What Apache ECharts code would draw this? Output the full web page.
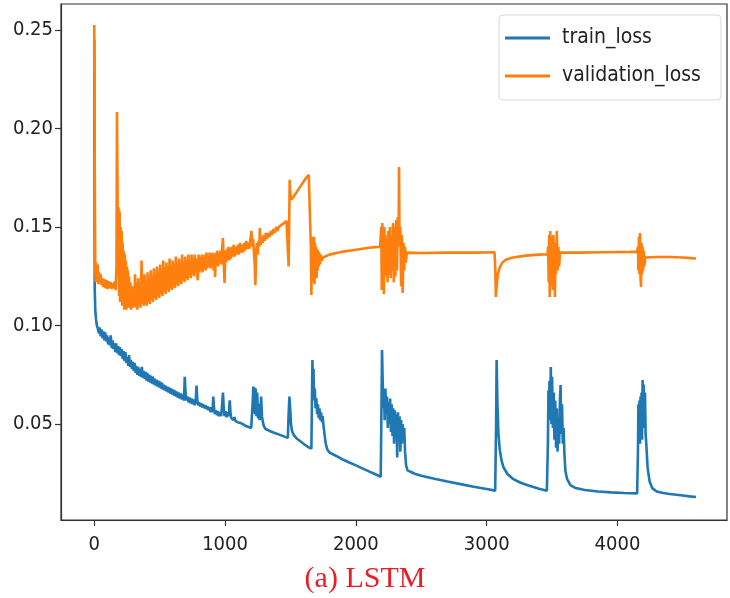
<!DOCTYPE html>
<html>
<head>
<meta charset="utf-8">
<script src="https://cdn.jsdelivr.net/npm/echarts@6/dist/echarts.min.js"></script>
<style>
html,body{margin:0;padding:0;background:#fff;}
#chart{width:730px;height:598px;}
</style>
</head>
<body>
<div id="chart"></div>
<script>
// ---- data (epoch, loss) ----
var seriesNames = ['train_loss', 'validation_loss'];
var xTicks = [0, 1000, 2000, 3000, 4000];
var yTicks = [0.05, 0.10, 0.15, 0.20, 0.25];
var captionText = '(a) LSTM';

var trainLoss = [
[0,0.245],[4,0.118],[8,0.108],[14,0.103],[20,0.100],[28,0.0985],
[36,0.0960],[42,0.0990],[50,0.0945],[56,0.0980],[64,0.0935],[70,0.0970],[78,0.0925],[84,0.0965],[92,0.0920],[98,0.0950],
[106,0.0905],[112,0.0940],[120,0.0900],[126,0.0950],[134,0.0885],[140,0.0925],[148,0.0880],[154,0.0910],[162,0.0865],[168,0.0910],
[176,0.0860],[182,0.0895],[190,0.0850],[196,0.0890],[204,0.0845],[210,0.0880],[218,0.0830],[224,0.0870],[232,0.0820],[238,0.0865],
[246,0.0810],[252,0.0840],[260,0.0795],[266,0.0850],[274,0.0790],[280,0.0825],[288,0.0780],[294,0.0815],[302,0.0770],[308,0.0810],
[316,0.0760],[322,0.0795],[330,0.0750],[336,0.0790],[344,0.0745],[350,0.0780],[358,0.0740],[364,0.0790],[372,0.0735],[378,0.0770],
[386,0.0730],[392,0.0765],[400,0.0720],[406,0.0760],[414,0.0715],[420,0.0750],[428,0.0710],[434,0.0745],[442,0.0705],[448,0.0740],
[456,0.0700],[462,0.0730],[470,0.0695],[476,0.0725],[484,0.0690],[490,0.0720],[498,0.0685],[504,0.0715],[512,0.0680],[518,0.0710],
[526,0.0675],[532,0.0700],[540,0.0670],[546,0.0695],[554,0.0665],[560,0.0690],[568,0.0660],[574,0.0685],[582,0.0655],[588,0.0680],
[596,0.0650],[602,0.0675],[610,0.0645],[616,0.0670],[624,0.0640],[630,0.0665],[638,0.0635],[646,0.0660],[654,0.0630],[662,0.0655],
[670,0.0625],[678,0.0650],[686,0.0620],[692,0.0740],[698,0.0660],[704,0.0620],[712,0.0640],[720,0.0610],[728,0.0635],[736,0.0605],
[744,0.0630],[752,0.0600],[760,0.0625],[768,0.0595],[776,0.0620],[782,0.0695],[788,0.0625],[794,0.0595],[802,0.0610],[810,0.0590],
[818,0.0605],[826,0.0585],[834,0.0600],[842,0.0580],[850,0.0595],[858,0.0575],[866,0.0590],[874,0.0570],[882,0.0585],[890,0.0560],
[898,0.0585],[904,0.0560],[910,0.0640],[916,0.0580],[922,0.0550],[930,0.0570],[938,0.0545],[946,0.0565],[954,0.0540],[962,0.0560],
[970,0.0540],[978,0.0600],[984,0.0660],[990,0.0580],[996,0.0540],[1004,0.0565],[1012,0.0535],[1020,0.0560],[1028,0.0540],[1036,0.0620],
[1042,0.0555],[1048,0.0530],[1056,0.0540],[1064,0.0520],[1072,0.0535],[1080,0.0515],[1090,0.0520],[1100,0.0508],[1120,0.0505],
[1140,0.0498],[1160,0.0490],[1180,0.0485],[1200,0.0480],
[1206,0.048],[1212,0.062],[1216,0.069],[1220,0.058],[1224,0.0685],[1228,0.055],[1234,0.068],[1240,0.054],[1246,0.066],[1252,0.053],
[1258,0.060],[1264,0.052],[1270,0.057],[1276,0.064],[1282,0.054],[1288,0.0515],[1296,0.049],[1310,0.0475],
[1340,0.0465],[1380,0.0455],[1420,0.0445],[1460,0.0435],[1480,0.043],[1486,0.055],[1492,0.064],[1498,0.058],[1504,0.050],
[1512,0.0465],[1525,0.0445],[1550,0.0425],[1580,0.041],[1610,0.0395],[1640,0.0382],[1660,0.0375],
[1664,0.060],[1668,0.0825],[1672,0.070],[1676,0.078],[1680,0.062],[1686,0.068],[1692,0.058],[1698,0.063],[1704,0.055],[1710,0.060],
[1716,0.053],[1722,0.058],[1728,0.052],[1734,0.056],[1740,0.051],[1746,0.054],[1752,0.0495],[1760,0.045],[1770,0.040],[1782,0.037],
[1800,0.0355],[1850,0.0338],[1900,0.032],[1950,0.0305],[2000,0.029],[2050,0.0275],[2100,0.026],[2150,0.0245],[2190,0.0232],
[2196,0.060],[2200,0.0876],[2205,0.072],[2210,0.058],[2215,0.066],[2220,0.052],[2226,0.068],[2232,0.055],[2238,0.064],[2244,0.048],
[2250,0.061],[2256,0.050],[2262,0.063],[2268,0.046],[2274,0.060],[2280,0.044],[2286,0.058],[2292,0.040],[2298,0.057],[2304,0.045],
[2310,0.055],[2316,0.033],[2322,0.056],[2328,0.042],[2334,0.054],[2340,0.036],[2346,0.052],[2352,0.040],[2358,0.050],[2364,0.045],
[2370,0.048],[2376,0.036],[2384,0.029],[2395,0.0265],
[2450,0.0248],[2500,0.0238],[2600,0.0222],[2700,0.0208],[2800,0.0195],[2900,0.0182],[3000,0.017],[3065,0.0162],
[3072,0.050],[3076,0.0825],[3082,0.060],[3090,0.045],[3100,0.037],[3115,0.031],[3130,0.0278],[3160,0.0245],[3200,0.0222],
[3260,0.0202],[3320,0.0188],[3400,0.0172],[3460,0.0162],
[3468,0.040],[3472,0.067],[3476,0.052],[3480,0.072],[3486,0.055],[3490,0.079],[3495,0.050],[3500,0.074],[3506,0.048],[3512,0.066],
[3518,0.042],[3524,0.062],[3530,0.038],[3536,0.058],[3542,0.036],[3548,0.052],[3554,0.040],[3560,0.062],[3565,0.0698],[3570,0.045],
[3576,0.060],[3582,0.040],[3588,0.048],[3594,0.035],[3602,0.026],[3615,0.022],[3640,0.019],[3680,0.0175],[3750,0.0165],
[3850,0.0158],[3950,0.0153],[4050,0.015],[4150,0.0148],
[4156,0.035],[4160,0.060],[4164,0.042],[4168,0.062],[4172,0.040],[4176,0.064],[4180,0.045],[4184,0.066],[4188,0.042],[4192,0.0723],
[4196,0.048],[4200,0.070],[4205,0.050],[4210,0.066],[4215,0.045],[4220,0.040],[4230,0.028],[4245,0.021],[4265,0.0175],
[4300,0.0158],[4350,0.015],[4400,0.0145],[4450,0.0141],[4500,0.0137],[4550,0.0133],[4600,0.013]
];

var validationLoss = [
[0,0.2525],[4,0.180],[8,0.130],[12,0.122],[16,0.132],[20,0.126],[26,0.131],[32,0.121],[38,0.127],[44,0.1215],[50,0.126],
[56,0.1205],[62,0.124],[70,0.1195],[78,0.1235],[86,0.119],[94,0.123],[102,0.1185],[110,0.1225],[118,0.119],[126,0.122],
[134,0.1185],[142,0.1215],[150,0.119],[158,0.1225],[164,0.118],[170,0.130],[174,0.2084],[178,0.170],[182,0.125],[186,0.160],
[190,0.115],[194,0.158],[198,0.112],[202,0.150],[206,0.118],[210,0.148],[214,0.110],[218,0.142],[222,0.112],[226,0.138],
[230,0.108],[234,0.136],[238,0.112],[242,0.133],[246,0.108],[250,0.130],[254,0.111],[258,0.128],[262,0.109],[266,0.125],
[270,0.110],[276,0.122],[282,0.108],[288,0.120],[294,0.109],[300,0.118],
[306,0.110],[312,0.126],[318,0.109],[324,0.122],[330,0.108],[336,0.124],[342,0.110],[348,0.120],[354,0.109],[362,0.133],
[366,0.111],[372,0.124],[378,0.110],[384,0.126],[390,0.111],[396,0.122],[402,0.110],[408,0.127],[414,0.112],[420,0.124],
[426,0.111],[432,0.128],[438,0.113],[444,0.125],[450,0.112],[456,0.129],[462,0.114],[468,0.126],[474,0.113],[480,0.130],
[486,0.115],[492,0.127],[498,0.114],[504,0.131],[510,0.116],[516,0.128],[522,0.115],[528,0.133],[534,0.117],[540,0.129],
[546,0.116],[552,0.132],[558,0.118],[564,0.130],[570,0.117],[576,0.134],[582,0.119],[588,0.130],[594,0.118],[600,0.133],
[606,0.120],[612,0.131],[618,0.119],[624,0.135],[630,0.121],[636,0.131],[642,0.120],[648,0.134],[654,0.122],[660,0.132],
[666,0.121],[672,0.136],[678,0.123],[684,0.132],[690,0.122],[696,0.135],[702,0.124],[708,0.133],[714,0.123],[720,0.136],
[726,0.125],[732,0.133],[738,0.124],[744,0.136],[750,0.126],[756,0.134],[762,0.125],[768,0.136],[774,0.127],[780,0.134],
[786,0.126],[792,0.123],[798,0.136],[804,0.127],[810,0.135],[816,0.128],[822,0.136],[828,0.127],[834,0.135],[840,0.129],
[846,0.136],[852,0.128],[858,0.137],[864,0.129],[870,0.135],[876,0.130],[882,0.137],[888,0.129],[894,0.136],[900,0.130],
[906,0.137],[912,0.128],[918,0.136],[924,0.1246],[930,0.137],[936,0.131],[942,0.138],[948,0.130],[954,0.137],[960,0.132],
[966,0.138],[972,0.131],[978,0.139],[984,0.1444],[990,0.132],[996,0.1216],[1002,0.138],[1008,0.132],[1014,0.139],[1020,0.133],
[1026,0.140],[1032,0.133],[1038,0.139],[1044,0.134],[1050,0.140],[1058,0.135],[1066,0.141],[1074,0.135],[1082,0.140],
[1090,0.136],[1098,0.141],[1106,0.136],[1114,0.142],[1122,0.137],[1130,0.141],[1138,0.137],[1146,0.142],[1154,0.138],
[1162,0.143],[1170,0.139],[1178,0.142],[1186,0.139],[1194,0.144],[1202,0.148],[1208,0.140],[1214,0.144],[1220,0.138],
[1226,0.132],[1232,0.1205],[1238,0.138],[1244,0.142],[1250,0.136],[1256,0.143],[1262,0.140],[1266,0.1495],[1272,0.141],
[1280,0.145],[1288,0.142],[1296,0.146],[1304,0.143],[1312,0.147],[1320,0.144],[1330,0.147],[1340,0.145],[1350,0.148],
[1360,0.146],[1370,0.149],[1380,0.147],[1390,0.150],[1400,0.148],[1410,0.150],[1420,0.149],[1430,0.151],[1440,0.150],
[1450,0.152],[1460,0.151],[1470,0.153],[1480,0.152],[1486,0.130],[1490,0.150],[1494,0.174],[1498,0.168],[1504,0.164],
[1520,0.165],[1540,0.167],[1560,0.169],[1580,0.171],[1600,0.173],[1620,0.175],[1640,0.1765],[1648,0.177],
[1652,0.176],[1656,0.140],[1660,0.1155],[1664,0.145],[1668,0.122],[1672,0.143],[1676,0.125],[1680,0.145],[1684,0.121],
[1688,0.142],[1692,0.126],[1696,0.140],[1700,0.124],[1704,0.139],[1708,0.128],[1712,0.138],[1716,0.130],[1720,0.137],
[1726,0.131],[1732,0.136],[1740,0.133],[1750,0.1345],[1770,0.1352],[1800,0.136],[1850,0.1368],[1900,0.1375],[1950,0.138],
[2000,0.1385],[2050,0.139],[2100,0.1395],[2150,0.1398],[2185,0.140],
[2190,0.140],[2194,0.150],[2198,0.118],[2202,0.152],[2206,0.122],[2210,0.148],[2214,0.116],[2218,0.150],[2222,0.125],
[2226,0.146],[2230,0.128],[2236,0.144],[2242,0.122],[2248,0.148],[2254,0.126],[2260,0.150],[2266,0.124],[2272,0.145],
[2278,0.128],[2284,0.152],[2290,0.122],[2296,0.150],[2302,0.125],[2308,0.1535],[2314,0.128],[2320,0.155],[2326,0.140],
[2330,0.1805],[2334,0.140],[2340,0.150],[2346,0.120],[2352,0.146],[2358,0.1165],[2364,0.142],[2370,0.128],[2376,0.140],
[2382,0.132],[2390,0.137],[2400,0.1365],
[2500,0.1368],[2700,0.137],[2900,0.137],[3060,0.1372],
[3066,0.128],[3070,0.1145],[3076,0.120],[3085,0.126],[3100,0.1295],[3120,0.132],[3150,0.1335],[3200,0.1345],[3300,0.1355],
[3400,0.136],[3465,0.1362],
[3470,0.140],[3474,0.122],[3478,0.146],[3482,0.1145],[3486,0.148],[3490,0.120],[3494,0.145],[3498,0.125],[3502,0.143],
[3506,0.118],[3510,0.146],[3514,0.124],[3518,0.142],[3522,0.1145],[3526,0.140],[3530,0.126],[3536,0.148],[3542,0.128],
[3548,0.140],[3554,0.130],[3560,0.137],[3570,0.137],
[3700,0.137],[3900,0.1372],[4100,0.1374],[4150,0.1375],
[4156,0.140],[4160,0.128],[4164,0.145],[4168,0.126],[4172,0.147],[4176,0.124],[4180,0.1196],[4184,0.142],[4188,0.126],
[4192,0.140],[4196,0.128],[4200,0.138],[4205,0.130],[4212,0.1345],[4220,0.1345],
[4300,0.1348],[4400,0.1348],[4500,0.1345],[4560,0.1342],[4600,0.134]
];

var chart = echarts.init(document.getElementById('chart'), null, {renderer: 'canvas'});
var tickFont = '"DejaVu Sans Condensed", "DejaVu Sans", sans-serif';

chart.setOption({
  animation: false,
  backgroundColor: '#ffffff',
  title: {
    text: captionText,
    left: 'center',
    top: 564,
    padding: 0,
    textStyle: {
      fontFamily: '"Liberation Serif", "Times New Roman", serif',
      fontSize: 30,
      fontWeight: 'normal',
      color: '#ec1c24',
      lineHeight: 30
    }
  },
  legend: {
    orient: 'vertical',
    left: 499,
    top: 15,
    padding: [12, 20, 13, 6],
    itemGap: 16,
    itemWidth: 45,
    itemHeight: 3,
    icon: 'rect',
    borderColor: '#d8d8d8',
    borderWidth: 1,
    borderRadius: 4,
    backgroundColor: 'rgba(255,255,255,0.8)',
    textStyle: {
      fontFamily: tickFont,
      fontSize: 21,
      color: '#222',
      lineHeight: 22,
      padding: [0, 0, 0, 7]
    },
    data: seriesNames
  },
  grid: {
    left: 61,
    right: 3,
    top: 4,
    bottom: 78,
    show: true,
    borderColor: '#333',
    borderWidth: 1.2,
    backgroundColor: 'transparent',
    containLabel: false,
    outerBoundsMode: 'none'
  },
  xAxis: {
    type: 'value',
    min: -254,
    max: 4837,
    splitLine: {show: false},
    axisLine: {show: true, onZero: false, lineStyle: {color: '#333', width: 1.2}},
    axisTick: {show: true, length: 6, lineStyle: {color: '#333', width: 1.2}, customValues: xTicks},
    axisLabel: {
      customValues: xTicks,
      margin: 15,
      fontFamily: tickFont,
      fontSize: 20,
      color: '#222',
      formatter: function (v) { return String(Math.round(v)); }
    }
  },
  yAxis: {
    type: 'value',
    min: 0.0013,
    max: 0.2632,
    splitLine: {show: false},
    axisLine: {show: true, onZero: false, lineStyle: {color: '#333', width: 1.2}},
    axisTick: {show: true, length: 6, lineStyle: {color: '#333', width: 1.2}, customValues: yTicks},
    axisLabel: {
      customValues: yTicks,
      margin: 8,
      fontFamily: tickFont,
      fontSize: 20,
      color: '#222',
      formatter: function (v) { return v.toFixed(2); }
    }
  },
  series: [
    {
      name: seriesNames[0],
      type: 'line',
      data: trainLoss,
      showSymbol: false,
      symbol: 'none',
      sampling: null,
      color: '#1f77b4',
      lineStyle: {color: '#1f77b4', width: 2.6},
      z: 2
    },
    {
      name: seriesNames[1],
      type: 'line',
      data: validationLoss,
      showSymbol: false,
      symbol: 'none',
      sampling: null,
      color: '#ff7f0e',
      lineStyle: {color: '#ff7f0e', width: 2.6},
      z: 3
    }
  ]
});
</script>
</body>
</html>
